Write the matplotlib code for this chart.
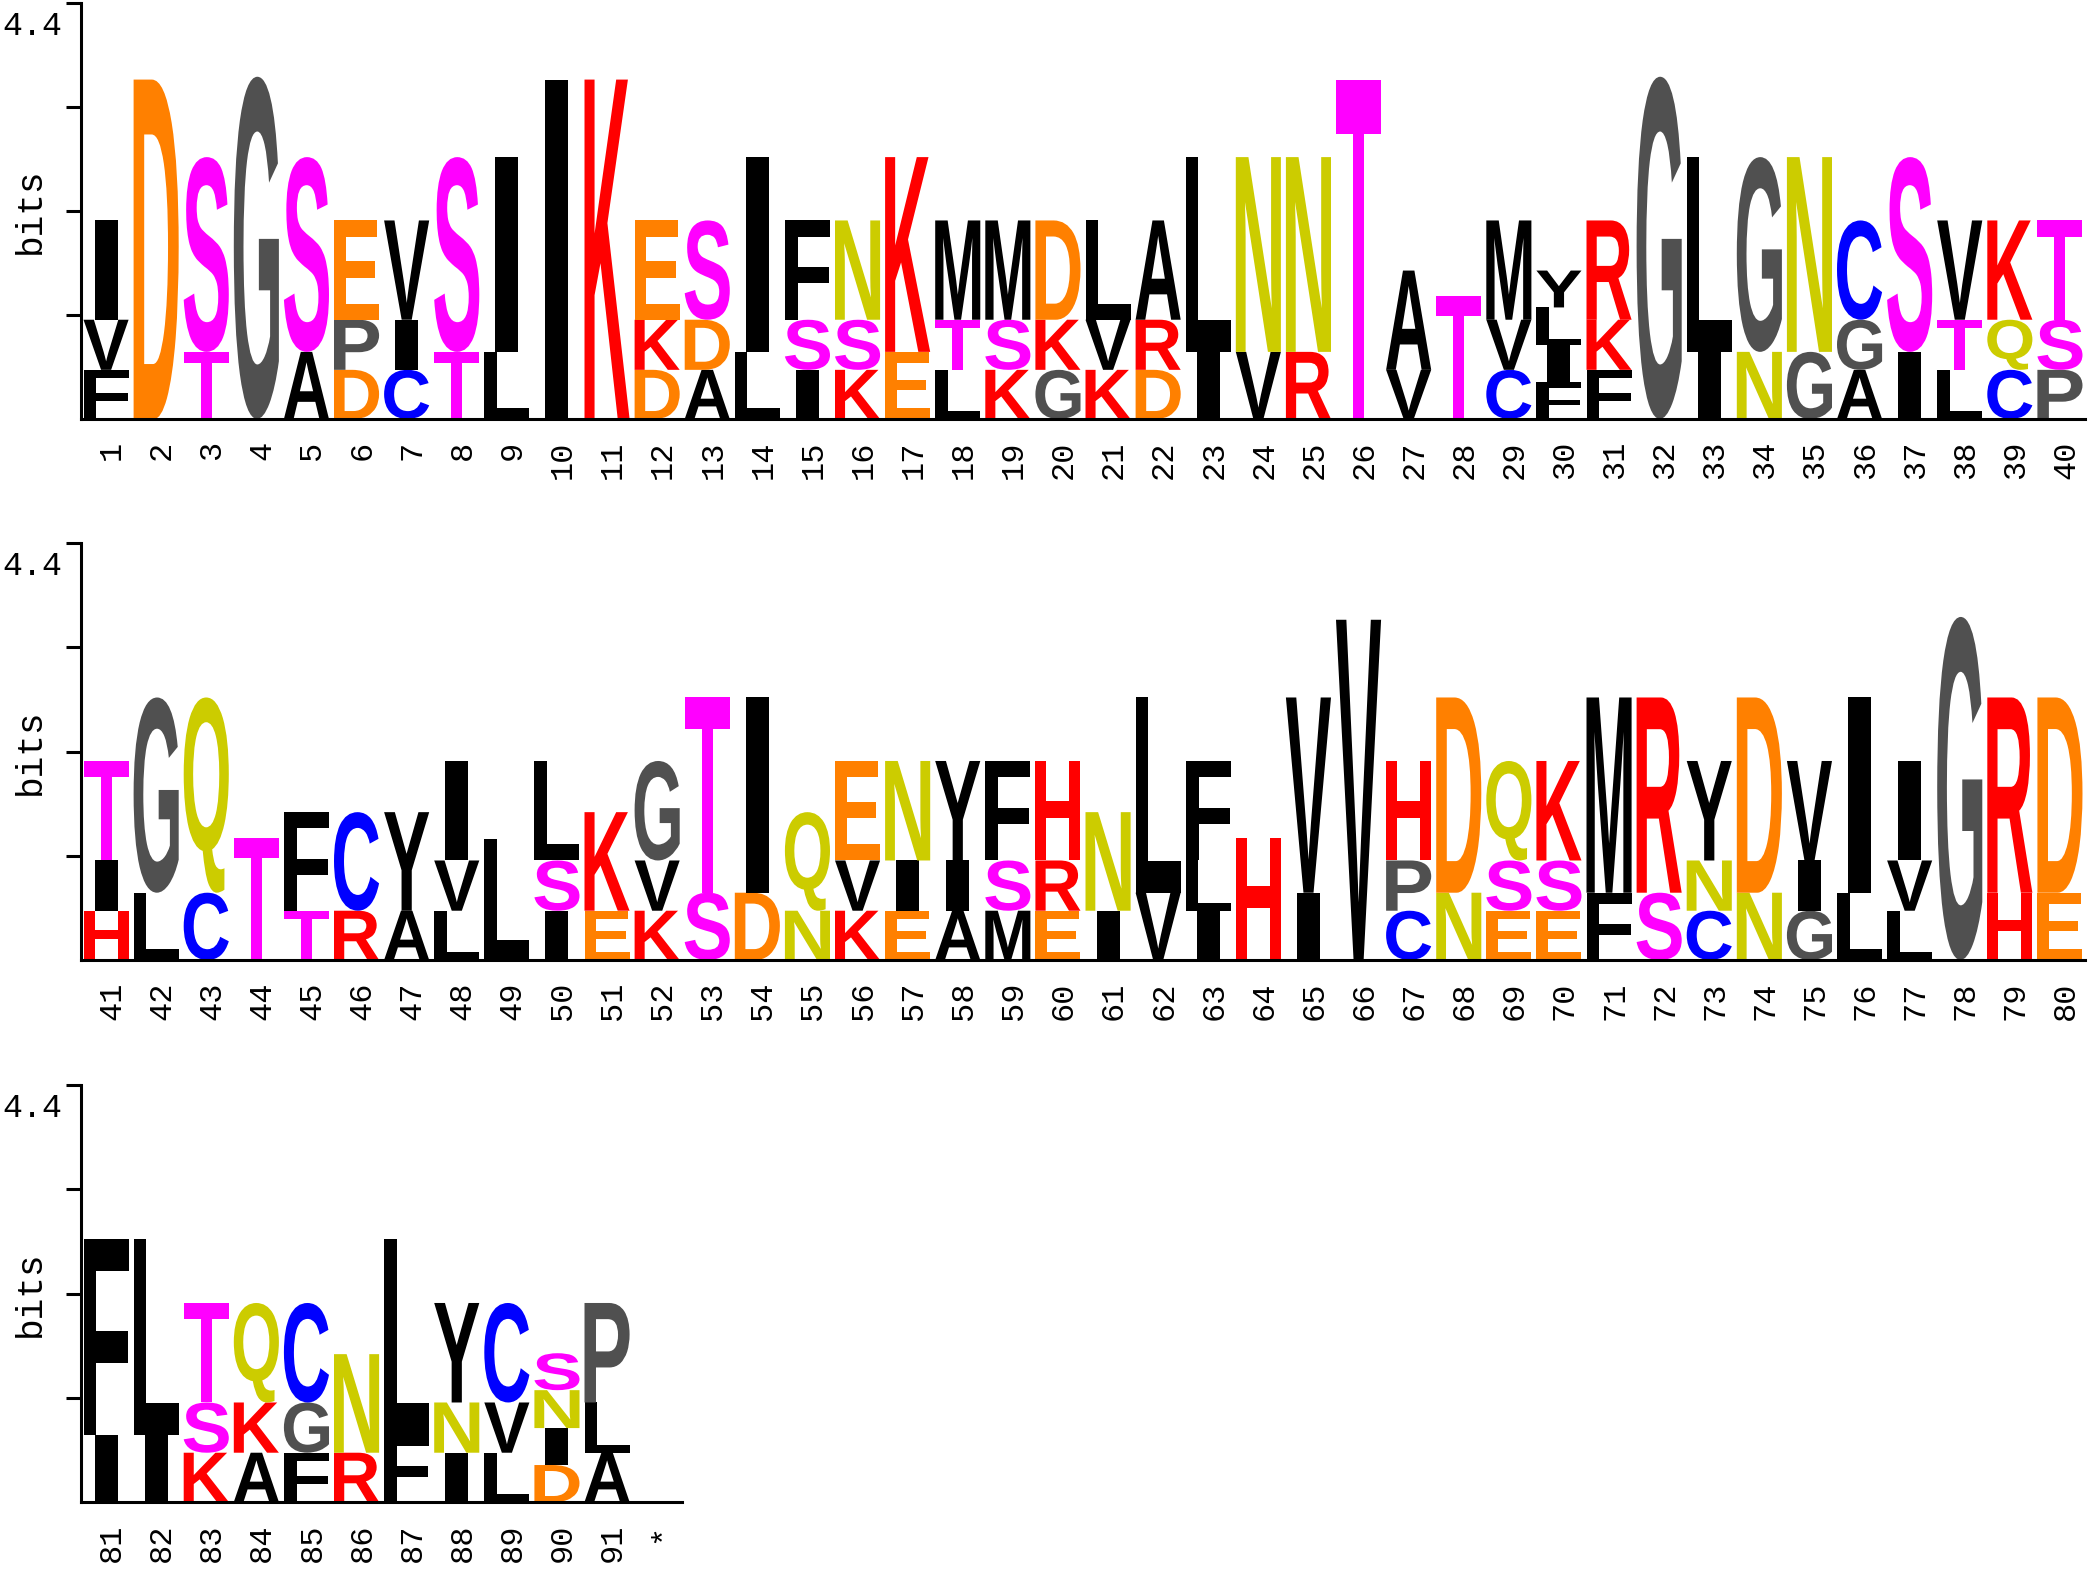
import matplotlib
matplotlib.use("Agg")
import matplotlib.pyplot as plt
from matplotlib.textpath import TextPath
from matplotlib.font_manager import FontProperties
from matplotlib.patches import PathPatch
from matplotlib.transforms import Affine2D

# residues at each position, listed bottom -> top
letters = [
    "FVI", "D", "TS", "G", "AS", "DPE", "CIV", "TS", "LI", "I",
    "K", "DKE", "ADS", "LI", "ISF", "KSN", "EK", "LTM", "KSM", "GKD",
    "KVL", "DRA", "IL", "VN", "RN", "T", "VA", "T", "CVM", "FILY",
    "FKR", "G", "IL", "NG", "GN", "AGC", "IS", "LTV", "CQK", "PST",
    "HIT", "LG", "CQ", "T", "TF", "RC", "AY", "LVI", "L", "ISL",
    "EK", "KVG", "ST", "DI", "NQ", "KVE", "EIN", "AIY", "MSF", "ERH",
    "IN", "VL", "ILF", "H", "IV", "V", "CPH", "ND", "ESQ", "ESK",
    "FM", "SR", "CNY", "ND", "GIV", "LI", "LVI", "G", "HR", "ED",
    "IF", "IL", "KST", "AKQ", "FGC", "RN", "FL", "INY", "LVC", "DINS",
    "ALP",
]

# letter heights in bits, same order as letters
heights = [
    [0.52, 0.53, 1.05], [3.59], [0.71, 2.06], [3.62], [0.71, 2.06],
    [0.52, 0.53, 1.05], [0.52, 0.53, 1.05], [0.71, 2.06], [0.71, 2.06], [3.59],
    [3.59], [0.52, 0.53, 1.05], [0.52, 0.53, 1.05], [0.71, 2.06], [0.52, 0.53, 1.05],
    [0.52, 0.53, 1.05], [0.71, 2.06], [0.52, 0.53, 1.05], [0.52, 0.53, 1.05], [0.52, 0.53, 1.05],
    [0.52, 0.53, 1.05], [0.52, 0.53, 1.05], [0.71, 2.06], [0.71, 2.06], [0.71, 2.06],
    [3.59], [0.52, 1.05], [1.30], [0.52, 0.53, 1.05], [0.39, 0.39, 0.40, 0.39],
    [0.52, 0.53, 1.05], [3.62], [0.71, 2.06], [0.71, 2.06], [0.71, 2.06],
    [0.52, 0.53, 1.05], [0.71, 2.06], [0.52, 0.53, 1.05], [0.52, 0.53, 1.05], [0.52, 0.53, 1.05],
    [0.52, 0.53, 1.05], [0.71, 2.06], [0.71, 2.06], [1.29], [0.52, 1.04],
    [0.52, 1.04], [0.52, 1.04], [0.52, 0.53, 1.05], [1.28], [0.52, 0.53, 1.05],
    [0.52, 1.04], [0.52, 0.53, 1.05], [0.71, 2.06], [0.71, 2.06], [0.52, 1.04],
    [0.52, 0.53, 1.05], [0.52, 0.53, 1.05], [0.52, 0.53, 1.05], [0.52, 0.53, 1.05], [0.52, 0.53, 1.05],
    [0.52, 1.04], [0.71, 2.06], [0.52, 0.53, 1.05], [1.29], [0.71, 2.06],
    [3.59], [0.52, 0.53, 1.05], [0.71, 2.06], [0.52, 0.53, 1.05], [0.52, 0.53, 1.05],
    [0.71, 2.06], [0.71, 2.06], [0.52, 0.53, 1.05], [0.71, 2.06], [0.52, 0.53, 1.05],
    [0.71, 2.06], [0.52, 0.53, 1.05], [3.62], [0.71, 2.06], [0.71, 2.06],
    [0.71, 2.06], [0.71, 2.06], [0.52, 0.53, 1.05], [0.52, 0.53, 1.05], [0.52, 0.53, 1.05],
    [0.52, 1.04], [0.71, 2.06], [0.52, 0.53, 1.05], [0.52, 0.53, 1.05], [0.39, 0.39, 0.40, 0.39],
    [0.52, 0.53, 1.05],
]

pos_labels = [str(i) for i in range(1, 92)] + ["*"]
row_starts = [0, 40, 80]
row_ncols = [40, 40, 12]
ymax = 4.4
yticks = [1.1, 2.2, 3.3, 4.4]

colors = {}
for c in "AFILMVYW":
    colors[c] = "black"
for c in "DE":
    colors[c] = "#ff8000"
for c in "ST":
    colors[c] = "#ff00ff"
for c in "GP":
    colors[c] = "#505050"
for c in "KRH":
    colors[c] = "#ff0000"
for c in "NQ":
    colors[c] = "#cccc00"
colors["C"] = "#0000ff"

W, H = 2089, 1577
fig = plt.figure(figsize=(W / 100, H / 100), dpi=100)

letter_font = FontProperties(family="Liberation Sans", weight="bold")
mono = "Liberation Mono"


def draw_letter(ax, ch, x, y, h):
    tp = TextPath((0, 0), ch, size=1, prop=letter_font)
    bb = tp.get_extents()
    w = 0.46 if ch == "I" else 0.9
    t = (Affine2D().translate(-bb.x0, -bb.y0)
         .scale(w / bb.width, h / bb.height)
         .translate(x - w / 2, y))
    ax.add_patch(PathPatch(t.transform_path(tp), facecolor=colors[ch],
                           edgecolor="none", lw=0))


# pixel layout of the three rows: (top, baseline)
rows_px = [(3, 419), (543, 960), (1085, 1502)]
left_px = 81
col_px = 50.1

for r in range(3):
    top, base = rows_px[r]
    n = row_ncols[r]
    ax = fig.add_axes([left_px / W, 1 - base / H, n * col_px / W, (base - top) / H])
    ax.set_xlim(0.5, n + 0.5)
    ax.set_ylim(0, ymax)
    for s in ["top", "right"]:
        ax.spines[s].set_visible(False)
    ax.spines["left"].set_linewidth(2.2)
    ax.spines["bottom"].set_linewidth(2.2)
    ax.set_xticks([])
    ax.set_yticks(yticks)
    ax.set_yticklabels([])
    ax.tick_params(axis="y", length=10.8, width=2.2, direction="out")

    for j in range(n):
        idx = row_starts[r] + j
        x = j + 1
        if idx < len(letters):
            y = 0.0
            for ch, h in zip(letters[idx], heights[idx]):
                draw_letter(ax, ch, x, y, h)
                y += h
        ax.text(x + 0.12, -0.23, pos_labels[idx], rotation=90, rotation_mode="anchor",
                ha="right", va="center", family=mono, fontsize=23, clip_on=False)

    fig.text(62 / W, 1 - (top + 32) / H, "4.4", ha="right", va="baseline",
             family=mono, fontsize=24)
    fig.text(30 / W, 1 - (top + base) / 2 / H, "bits", rotation=90, ha="center",
             va="center", family=mono, fontsize=26)

fig.savefig("out.png", dpi=100)
